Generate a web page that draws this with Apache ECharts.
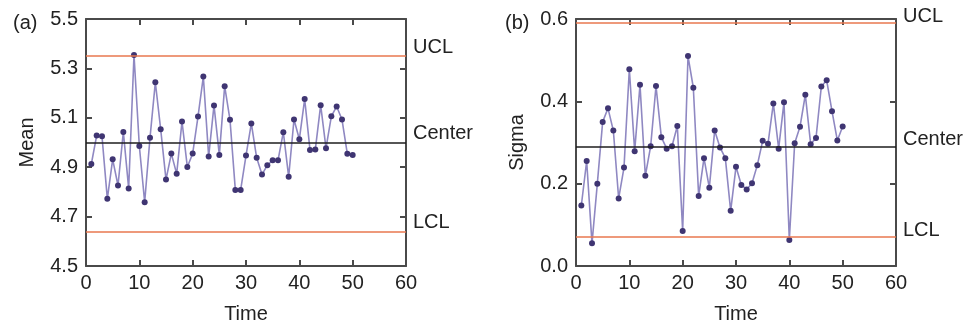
<!DOCTYPE html>
<html>
<head>
<meta charset="utf-8">
<script src="https://cdn.jsdelivr.net/npm/echarts@6/dist/echarts.min.js"></script>
<style>
  html, body { margin: 0; padding: 0; background: #fff; }
  #chart { width: 969px; height: 329px; }
</style>
</head>
<body>
<div id="chart"></div>
<script>
const times = [1, 2, 3, 4, 5, 6, 7, 8, 9, 10, 11, 12, 13, 14, 15, 16, 17, 18, 19, 20,
  21, 22, 23, 24, 25, 26, 27, 28, 29, 30, 31, 32, 33, 34, 35, 36, 37, 38, 39, 40,
  41, 42, 43, 44, 45, 46, 47, 48, 49, 50]

const meanValues = [4.913, 5.028, 5.025, 4.772, 4.932, 4.826, 5.043, 4.814, 5.354, 4.986,
  4.758, 5.019, 5.244, 5.054, 4.850, 4.955, 4.873, 5.085, 4.901, 4.955,
  5.105, 5.267, 4.943, 5.150, 4.949, 5.228, 5.092, 4.808, 4.808, 4.947,
  5.077, 4.938, 4.870, 4.908, 4.928, 4.928, 5.042, 4.861, 5.093, 5.013,
  5.176, 4.970, 4.972, 5.151, 4.977, 5.106, 5.146, 5.093, 4.954, 4.949]

const sigmaValues = [0.147, 0.255, 0.055, 0.200, 0.350, 0.383, 0.329, 0.164, 0.239, 0.478,
  0.279, 0.440, 0.219, 0.291, 0.437, 0.313, 0.285, 0.291, 0.340, 0.085,
  0.510, 0.433, 0.170, 0.262, 0.190, 0.329, 0.288, 0.262, 0.134, 0.241,
  0.197, 0.186, 0.201, 0.245, 0.304, 0.297, 0.395, 0.285, 0.398, 0.063,
  0.298, 0.338, 0.416, 0.296, 0.311, 0.436, 0.451, 0.376, 0.305, 0.339]

const limitNames = ['UCL', 'Center', 'LCL']
const meanLimits = [5.354, 4.998, 4.643]
const sigmaLimits = [0.595, 0.288, 0.068]
const limitColors = ['#e8774f', '#1e1e1e', '#e8774f']

const panelLabels = ['(a)', '(b)']
const yNames = ['Mean', 'Sigma']
const xTicks = { min: 0, max: 60, interval: 10 }

const FONT = 'Liberation Sans, Arial, sans-serif'
const FONT_SIZE = 20
const AXIS_COLOR = '#4a4a4a'
const TEXT_COLOR = '#222'

const chart = echarts.init(document.getElementById('chart'), undefined, { renderer: 'canvas' })

const grids = [
  { left: 86, right: 563, top: 19, bottom: 63 },
  { left: 576, right: 73, top: 19, bottom: 63 },
]

const axisLine = { show: true, onZero: false, lineStyle: { color: AXIS_COLOR, width: 2 } }
const axisTick = { show: true, inside: true, length: 6, lineStyle: { color: AXIS_COLOR, width: 2 } }
const textStyle = { fontFamily: FONT, fontSize: FONT_SIZE, color: TEXT_COLOR }

const xAxis = []
const yAxis = []
const yRanges = [
  { min: 4.5, max: 5.5, interval: 0.2 },
  { min: 0, max: 0.6, interval: 0.2 },
]

grids.forEach((g, i) => {
  xAxis.push({
    type: 'value', gridIndex: i, position: 'bottom', ...xTicks,
    name: 'Time', nameLocation: 'middle', nameGap: 38,
    nameTextStyle: textStyle,
    axisLine, axisTick,
    axisLabel: { ...textStyle, margin: 7 },
    splitLine: { show: false },
  })
  xAxis.push({
    type: 'value', gridIndex: i, position: 'top', ...xTicks,
    axisLine, axisTick, axisLabel: { show: false }, splitLine: { show: false },
  })
  yAxis.push({
    type: 'value', gridIndex: i, position: 'left', ...yRanges[i],
    name: yNames[i], nameLocation: 'middle', nameGap: 49,
    nameTextStyle: textStyle,
    axisLine, axisTick,
    axisLabel: { ...textStyle, margin: 8, formatter: (v) => v.toFixed(1) },
    splitLine: { show: false },
  })
  yAxis.push({
    type: 'value', gridIndex: i, position: 'right', ...yRanges[i],
    axisLine, axisTick, axisLabel: { show: false }, splitLine: { show: false },
  })
})

const makeSeries = (values, limits, idx, lift) => ({
  type: 'line',
  xAxisIndex: idx * 2,
  yAxisIndex: idx * 2,
  data: times.map((t, k) => [t, values[k]]),
  symbol: 'circle',
  symbolSize: 6,
  itemStyle: { color: '#3f3572' },
  lineStyle: { color: '#8f88c2', width: 1.6 },
  z: 3,
  markLine: {
    silent: true,
    symbol: ['none', 'none'],
    animation: false,
    data: limitNames.map((name, k) => ({
      name,
      yAxis: limits[k],
      lineStyle: { color: limitColors[k], width: 1.6, type: 'solid' },
    })),
    label: {
      show: true,
      position: 'end',
      formatter: '{b}',
      distance: 7,
      offset: [0, -lift],
      ...textStyle,
    },
  },
})

chart.setOption({
  animation: false,
  backgroundColor: '#fff',
  grid: grids,
  xAxis,
  yAxis,
  title: panelLabels.map((text, i) => ({
    text,
    left: i === 0 ? 8 : 500,
    top: 8,
    textStyle: { ...textStyle, fontWeight: 'normal' },
  })),
  series: [
    makeSeries(meanValues, meanLimits, 0, 9),
    makeSeries(sigmaValues, sigmaLimits, 1, 7),
  ],
})
</script>
</body>
</html>
